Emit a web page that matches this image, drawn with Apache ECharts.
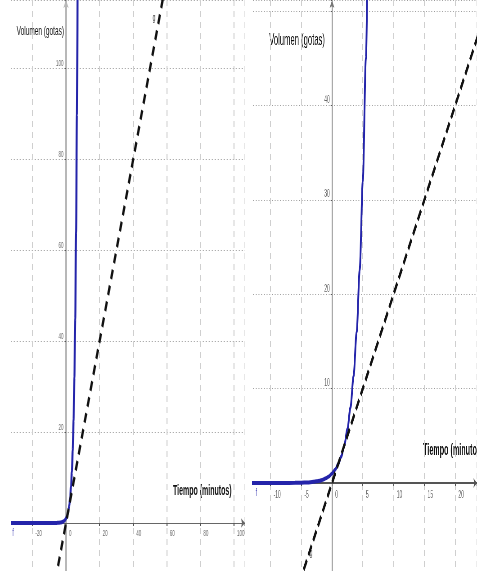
<!DOCTYPE html>
<html><head><meta charset="utf-8">
<script src="https://cdn.jsdelivr.net/npm/echarts@6/dist/echarts.min.js"></script>
<style>
html,body{margin:0;padding:0;background:#fff;width:477px;height:571px;overflow:hidden;position:relative;}
.panel{position:absolute;top:0;height:571px;transform-origin:0 0;}
</style></head><body>
<div id="left" class="panel"></div>
<div id="right" class="panel"></div>
<script>
// ---- data ----
// curve f (exponential growth, Volumen vs Tiempo)
const curveX = [-35, -20, -12, -8, -6, -5, -4, -3, -2.5, -2, -1.5, -1, -0.5, 0, 0.5, 1, 1.5, 2, 2.5, 3, 3.5, 4, 4.5, 5, 5.5, 6, 6.5, 7];
const curveY = [0, 0, 0, 0.004, 0.016, 0.03, 0.06, 0.12, 0.18, 0.25, 0.35, 0.5, 0.7, 1, 1.4, 2, 2.8, 4, 5.7, 8, 11.3, 16, 22.6, 32, 45, 64, 90, 128];
// dashed straight line g
const lineX = [-10, 70];
const lineY = [-20, 140];
// tick labels
const leftXTicks = [-20, 0, 20, 40, 60, 80, 100];
const leftYTicks = [20, 40, 60, 80, 100];
const rightXTicks = [-10, -5, 0, 5, 10, 15, 20];
const rightYTicks = [10, 20, 30, 40];
// curve name labels [text, x, y]
const leftCurveLabels = [['f', -31.5, -2.2], ['g', 52.4, 111]];
const rightCurveLabels = [['f', -12.3, -1.1], ['g', -3.4, -7.4]];
const yName = 'Volumen (gotas)';
const xName = 'Tiempo (minutos)';

// ---- layout (visual px) ----
const LEFT = {
  el: 'left', visLeft: 11, visWidth: 234, s: 0.5, ox: 55, oy: 523, kx: 1.68, ky: 4.545,
  xMin: -40, yMin: -20, xInt: 20, yInt: 20,
  xTicks: leftXTicks, yTicks: leftYTicks, curveLabels: leftCurveLabels,
  tickFont: 9, labelFont: 10, xLabOff: [6, 6], yLabOff: [-5, 0],
  yNamePos: [106, 31], yNameFont: 13, xNamePos: [324, 491], xNameFont: 14,
  yAxisColor: '#b8b8b8', yAxisWidth: 4, xAxisColor: '#666', xAxisWidth: 1.2,
  dash: [10, 7]
};
const RIGHT = {
  el: 'right', visLeft: 252, visWidth: 225, s: 0.45, ox: 80, oy: 483, kx: 6.16, ky: 9.44,
  xMin: -15, yMin: -10, xInt: 5, yInt: 10,
  xTicks: rightXTicks, yTicks: rightYTicks, curveLabels: rightCurveLabels,
  tickFont: 11, labelFont: 11, xLabOff: [7, 6], yLabOff: [-5, 0],
  yNamePos: [162, 40], yNameFont: 17, xNamePos: [380, 451], xNameFont: 16,
  yAxisColor: '#777', yAxisWidth: 2, xAxisColor: '#555', xAxisWidth: 2,
  dash: [12, 6]
};

function makeOption(P) {
  const s = P.s;
  const xMax = (P.visWidth - P.ox) / P.kx;
  const yMax = P.oy / P.ky;
  const gridLeft = (P.ox + P.xMin * P.kx) / s;
  const gridWidth = (xMax - P.xMin) * P.kx / s;
  const gridTop = P.oy - yMax * P.ky;
  const gridHeight = (yMax - P.yMin) * P.ky;
  const curve = curveX.map((x, i) => [x, curveY[i]]);
  const line = lineX.map((x, i) => [x, lineY[i]]);
  const tickText = (off, align, vAlign) => ({
    show: true, position: off, align: align, verticalAlign: vAlign,
    fontSize: P.tickFont, fontFamily: 'Liberation Sans', color: '#444',
    formatter: (p) => p.name
  });
  return {
    animation: false,
    backgroundColor: '#ffffff',
    grid: { left: gridLeft, top: gridTop, width: gridWidth, height: gridHeight, containLabel: false, outerBoundsMode: 'none' },
    xAxis: {
      type: 'value', min: P.xMin, max: xMax, interval: P.xInt,
      axisLine: { show: true, onZero: true, symbol: ['none', 'arrow'], symbolSize: [7, 8],
        lineStyle: { color: P.xAxisColor, width: P.xAxisWidth } },
      axisTick: { show: true, inside: false, length: 3, lineStyle: { color: '#555', width: 2 } },
      axisLabel: { show: false },
      splitLine: { show: true, lineStyle: { color: '#cfcfcf', width: 2, type: [6, 5] } }
    },
    yAxis: {
      type: 'value', min: P.yMin, max: yMax, interval: P.yInt,
      axisLine: { show: true, onZero: true, symbol: ['none', 'arrow'], symbolSize: [8, 8],
        lineStyle: { color: P.yAxisColor, width: P.yAxisWidth } },
      axisTick: { show: true, inside: false, length: 3, lineStyle: { color: '#555', width: 1 } },
      axisLabel: { show: false },
      splitLine: { show: true, lineStyle: { color: '#9a9a9a', width: 1, type: [2, 4] } }
    },
    graphic: [
      { type: 'text', x: P.yNamePos[0], y: P.yNamePos[1],
        style: { text: yName, fontSize: P.yNameFont, fontFamily: 'Liberation Sans', fill: '#111',
          textAlign: 'right', textVerticalAlign: 'middle', align: 'right', verticalAlign: 'middle' } },
      { type: 'text', x: P.xNamePos[0], y: P.xNamePos[1],
        style: { text: xName, fontSize: P.xNameFont, fontWeight: 'bold', fontFamily: 'Liberation Sans', fill: '#111',
          textAlign: 'left', textVerticalAlign: 'middle', align: 'left', verticalAlign: 'middle' } }
    ],
    series: [
      { type: 'line', name: 'f', data: curve, smooth: 0.3, smoothMonotone: 'x', showSymbol: false,
        lineStyle: { color: '#2424aa', width: 4 }, z: 3, silent: true },
      { type: 'line', name: 'g', data: line, showSymbol: false,
        lineStyle: { color: '#111', width: 4.5, type: P.dash }, z: 4, silent: true },
      { type: 'scatter', symbolSize: 0, z: 5, silent: true,
        data: P.curveLabels.map(d => ({ name: d[0], value: [d[1], d[2]],
          label: { color: d[0] === 'f' ? '#2424aa' : '#000' } })),
        label: { show: true, position: 'inside', fontSize: P.labelFont, fontFamily: 'Liberation Sans',
          formatter: (p) => p.name },
        itemStyle: { color: 'transparent' } },
      { type: 'scatter', name: 'xticks', symbolSize: 0, z: 5, silent: true,
        data: P.xTicks.map(t => ({ name: String(t), value: [t, 0] })),
        label: tickText(P.xLabOff, 'left', 'top'),
        itemStyle: { color: 'transparent' } },
      { type: 'scatter', name: 'yticks', symbolSize: 0, z: 5, silent: true,
        data: P.yTicks.map(t => ({ name: String(t), value: [0, t] })),
        label: tickText(P.yLabOff, 'right', 'bottom'),
        itemStyle: { color: 'transparent' } }
    ]
  };
}

function mount(P) {
  const el = document.getElementById(P.el);
  const w = P.visWidth / P.s;
  el.style.left = P.visLeft + 'px';
  el.style.width = w + 'px';
  el.style.transform = 'scaleX(' + P.s + ')';
  const chart = echarts.init(el, null, { renderer: 'canvas', width: w, height: 571 });
  chart.setOption(makeOption(P));
}
mount(LEFT);
mount(RIGHT);
</script>
</body></html>
